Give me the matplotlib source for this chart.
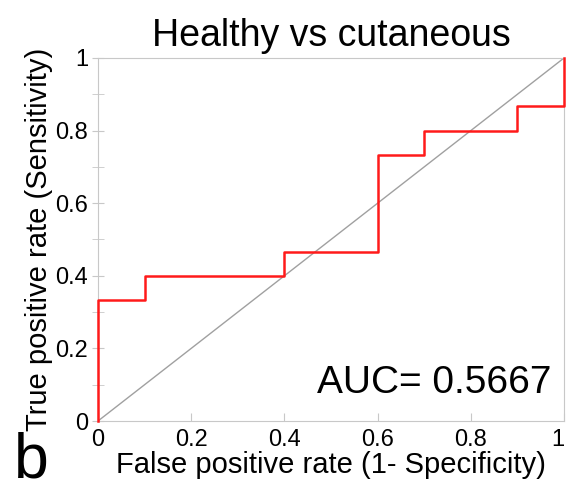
import matplotlib.pyplot as plt
import numpy as np

plt.rcParams['font.family'] = ['Liberation Sans', 'DejaVu Sans']

# ROC step curve
fpr = [0, 0, 0.1, 0.1, 0.4, 0.4, 0.6, 0.6, 0.7, 0.7, 0.9, 0.9, 1.0, 1.0]
tpr = [0, 0.3333, 0.3333, 0.4, 0.4, 0.4667, 0.4667, 0.7333, 0.7333, 0.8, 0.8, 0.8667, 0.8667, 1.0]
auc = 0.5667
ticks = [0, 0.2, 0.4, 0.6, 0.8, 1]
tick_labels = ['0', '0.2', '0.4', '0.6', '0.8', '1']

fig = plt.figure(figsize=(5.69, 4.84), dpi=100)
ax = fig.add_axes([98/569, 1 - 421/484, (564-98)/569, (421-58)/484])

ax.plot([0, 1], [0, 1], color='#a0a0a0', lw=1)
ax.plot(fpr, tpr, color='#ff1a1a', lw=1.8, clip_on=False, zorder=5)

ax.set_xlim(0, 1)
ax.set_ylim(0, 1)
ax.set_xticks(ticks)
ax.set_xticklabels(tick_labels)
ax.set_yticks(ticks)
ax.set_yticklabels(tick_labels)
ax.set_yticks(np.arange(0.1, 1, 0.2), minor=True)
for s in ax.spines.values():
    s.set_color('#c8c8c8')
ax.tick_params(axis='x', direction='in', length=6, color='#c8c8c8', labelsize=17, pad=6)
ax.tick_params(axis='y', which='both', direction='inout', length=8, color='#c8c8c8', labelsize=17, pad=3)
ax.get_xticklabels()[-1].set_horizontalalignment('right')

ax.set_title('Healthy vs cutaneous', fontsize=27, pad=9)
ax.set_xlabel('False positive rate (1- Specificity)', fontsize=21, labelpad=0)
ax.set_ylabel('True positive rate (Sensitivity)', fontsize=21, labelpad=2)

ax.text(0.974, 0.077, 'AUC= %.4f' % auc, transform=ax.transAxes, ha='right', va='baseline', fontsize=28)
fig.text(14/569, 1 - 477/484, 'b', fontsize=45, ha='left', va='baseline')

fig.savefig('out.png', dpi=100)
